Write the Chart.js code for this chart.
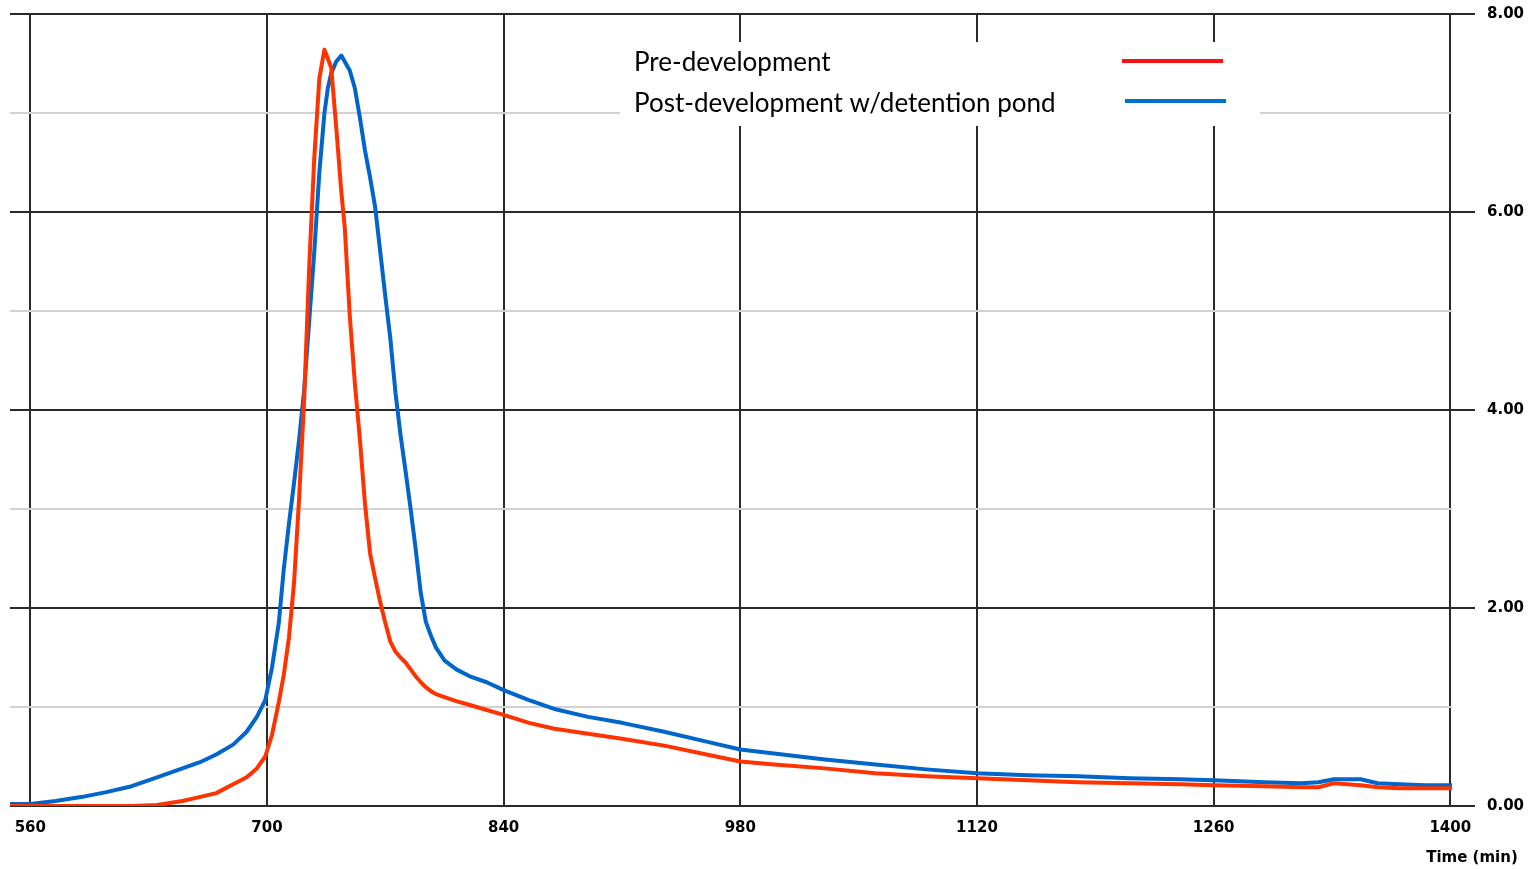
<!DOCTYPE html>
<html>
<head>
<meta charset="utf-8">
<script src="https://cdn.jsdelivr.net/npm/chart.js@4.4.1/dist/chart.umd.min.js"></script>
<style>
  html, body { margin: 0; padding: 0; background: #ffffff; }
  canvas { display: block; }
</style>
</head>
<body>
<canvas id="c" width="1535" height="869"></canvas>
<script>
// ---- Data ----
const timeMin = [548, 560, 575, 590, 605, 620, 635, 650, 660, 670, 680, 688, 694, 699, 703, 707, 710, 713, 716, 719, 722, 725, 728, 731, 734, 736, 738, 741, 744, 746, 749, 752, 755, 758, 761, 764, 767, 770, 773, 776, 779, 782, 785, 788, 791, 794, 797, 800, 805, 812, 820, 830, 840, 855, 870, 890, 910, 935, 960, 980, 1000, 1030, 1060, 1090, 1120, 1150, 1180, 1210, 1240, 1260, 1290, 1312, 1322, 1331, 1347, 1357, 1370, 1385, 1401];

const preDevelopment = [0, 0, 0, 0, 0, 0, 0.01, 0.05, 0.09, 0.13, 0.22, 0.29, 0.38, 0.5, 0.72, 1.05, 1.33, 1.7, 2.25, 3.1, 4.1, 5.45, 6.55, 7.35, 7.64, 7.55, 7.46, 6.85, 6.2, 5.85, 4.95, 4.27, 3.7, 3.05, 2.55, 2.3, 2.06, 1.85, 1.66, 1.56, 1.5, 1.45, 1.38, 1.31, 1.25, 1.2, 1.16, 1.13, 1.1, 1.06, 1.02, 0.97, 0.92, 0.84, 0.78, 0.73, 0.68, 0.61, 0.52, 0.45, 0.42, 0.38, 0.33, 0.30, 0.28, 0.26, 0.24, 0.23, 0.22, 0.21, 0.20, 0.19, 0.19, 0.23, 0.21, 0.19, 0.18, 0.18, 0.18];

const postDevelopment = [0.02, 0.02, 0.05, 0.09, 0.14, 0.2, 0.29, 0.38, 0.44, 0.52, 0.62, 0.75, 0.9, 1.07, 1.4, 1.85, 2.4, 2.85, 3.26, 3.7, 4.2, 4.9, 5.6, 6.4, 7.0, 7.25, 7.4, 7.52, 7.58, 7.52, 7.43, 7.25, 6.95, 6.62, 6.35, 6.05, 5.6, 5.15, 4.72, 4.18, 3.75, 3.38, 3.0, 2.59, 2.15, 1.86, 1.72, 1.6, 1.47, 1.38, 1.31, 1.25, 1.17, 1.07, 0.98, 0.9, 0.84, 0.75, 0.65, 0.57, 0.53, 0.47, 0.42, 0.37, 0.33, 0.31, 0.30, 0.28, 0.27, 0.26, 0.24, 0.23, 0.24, 0.27, 0.27, 0.23, 0.22, 0.21, 0.21];

const xTickValues = [560, 700, 840, 980, 1120, 1260, 1400];
const yTickValues = [0, 1, 2, 3, 4, 5, 6, 7, 8];
const seriesLabels = ['Pre-development', 'Post-development w/detention pond'];
const xAxisTitle = 'Time (min)';

// ---- Styles ----
const RED = '#ff3300';
const BLUE = '#0066cc';
const MAJOR = '#2a2a2a';
const MINOR = '#d2d2d2';
const tickFont = { family: 'DejaVu Sans', size: 15, weight: 'bold' };

const legendPlugin = {
  id: 'legendBox',
  beforeDatasetsDraw(chart) {
    const ctx = chart.ctx;
    ctx.save();
    ctx.fillStyle = '#ffffff';
    ctx.fillRect(620, 42, 640, 84);
    ctx.restore();
  },
  afterDraw(chart) {
    const ctx = chart.ctx;
    ctx.save();
    ctx.font = '100px Lato';
    const w = ctx.measureText(seriesLabels[1]).width;
    const size = Math.round(100 * 421 / w * 10) / 10;
    ctx.font = size + 'px Lato';
    ctx.fillStyle = '#000000';
    ctx.textAlign = 'left';
    ctx.textBaseline = 'alphabetic';
    ctx.fillText(seriesLabels[0], 634, 71);
    ctx.fillText(seriesLabels[1], 634, 112);
    ctx.lineWidth = 4;
    ctx.strokeStyle = '#ff1010';
    ctx.beginPath(); ctx.moveTo(1122, 61); ctx.lineTo(1223, 61); ctx.stroke();
    ctx.strokeStyle = '#0070c8';
    ctx.beginPath(); ctx.moveTo(1125, 101); ctx.lineTo(1226, 101); ctx.stroke();
    ctx.font = 'bold 15px "DejaVu Sans"';
    ctx.textAlign = 'center';
    ctx.textBaseline = 'middle';
    ctx.fillText(xAxisTitle, 1472, 858);
    ctx.restore();
  }
};

new Chart(document.getElementById('c'), {
  type: 'line',
  data: {
    datasets: [
      {
        label: seriesLabels[0],
        data: timeMin.map((t, i) => ({ x: t, y: preDevelopment[i] })),
        borderColor: RED,
        borderWidth: 4,
        pointRadius: 0,
        tension: 0,
        borderJoinStyle: 'round',
        fill: false
      },
      {
        label: seriesLabels[1],
        data: timeMin.map((t, i) => ({ x: t, y: postDevelopment[i] })),
        borderColor: BLUE,
        borderWidth: 4,
        pointRadius: 0,
        tension: 0,
        borderJoinStyle: 'round',
        fill: false
      }
    ]
  },
  options: {
    responsive: false,
    animation: false,
    devicePixelRatio: 1,
    layout: { padding: { left: 10, top: 14, right: 0, bottom: 0 } },
    plugins: { legend: { display: false }, tooltip: { enabled: false }, title: { display: false } },
    scales: {
      x: {
        type: 'linear',
        min: 548,
        max: 1401,
        afterBuildTicks: s => { s.ticks = xTickValues.map(v => ({ value: v })); },
        afterFit: s => { s.height = 63; s.paddingLeft = 0; s.paddingRight = 0; },
        border: { display: false },
        grid: { color: MAJOR, lineWidth: 2, drawTicks: false },
        ticks: {
          font: tickFont, color: '#000000', padding: 13,
          autoSkip: false, maxRotation: 0,
          callback: v => String(v)
        }
      },
      y: {
        position: 'right',
        min: 0,
        max: 8,
        afterBuildTicks: s => { s.ticks = yTickValues.map(v => ({ value: v })); },
        afterFit: s => { s.width = 83; s.paddingTop = 0; s.paddingBottom = 0; },
        border: { display: false },
        grid: {
          color: c => (c.tick && c.tick.value % 2 === 0) ? MAJOR : MINOR,
          tickColor: c => (c.tick && c.tick.value % 2 === 0) ? MAJOR : 'rgba(0,0,0,0)',
          lineWidth: 2,
          tickLength: 23
        },
        ticks: {
          font: tickFont, color: '#000000', padding: 12,
          callback: v => (v % 2 === 0 ? Number(v).toFixed(2) : '')
        }
      }
    }
  },
  plugins: [legendPlugin]
});
</script>
</body>
</html>
